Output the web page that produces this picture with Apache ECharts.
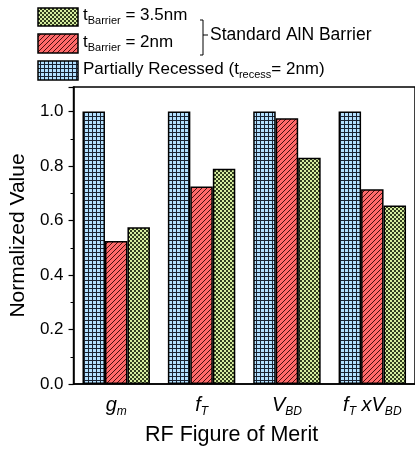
<!DOCTYPE html>
<html>
<head>
<meta charset="utf-8">
<script src="https://cdn.jsdelivr.net/npm/echarts@6/dist/echarts.min.js"></script>
<style>
  html, body { margin: 0; padding: 0; background: #fff; }
  #chart { width: 415px; height: 449px; }
</style>
</head>
<body>
<div id="chart"></div>
<script>
// categories and values
const categories = ['gm', 'fT', 'VBD', 'fTxVBD']
const categoryLabels = [
  '{i|g}{s|m}',
  '{i|f}{s|T}',
  '{i|V}{s|BD}',
  '{i|f}{s|T}{i| xV}{s|BD}',
]
const recessed = [1.0, 1.0, 1.0, 1.0]
const barrier2nm = [0.525, 0.725, 0.975, 0.715]
const barrier35nm = [0.575, 0.79, 0.83, 0.655]
const yTicks = ['0.0', '0.2', '0.4', '0.6', '0.8', '1.0']

const FONT = 'Liberation Sans, Arial, sans-serif'

// small pixel tiles used as fill patterns
function makeTile(size, painter) {
  const c = document.createElement('canvas')
  c.width = size
  c.height = size
  const ctx = c.getContext('2d')
  const img = ctx.createImageData(size, size)
  for (let y = 0; y < size; y++) {
    for (let x = 0; x < size; x++) {
      const col = painter(x, y)
      const k = (y * size + x) * 4
      img.data[k] = col[0]
      img.data[k + 1] = col[1]
      img.data[k + 2] = col[2]
      img.data[k + 3] = 255
    }
  }
  ctx.putImageData(img, 0, 0)
  return { image: c, repeat: 'repeat' }
}

const blueGrid = makeTile(4, (x, y) => (x === 0 || y === 0) ? [25, 35, 50] : [178, 224, 255])
const redHatch = makeTile(5, (x, y) => ((x + y) % 5 === 4) ? [70, 15, 15] : [255, 106, 106])
const greenCheck = makeTile(4, (x, y) => ((Math.floor(x / 2) + Math.floor(y / 2)) % 2 === 0) ? [50, 62, 30] : [214, 238, 160])

const chart = echarts.init(document.getElementById('chart'), null, { renderer: 'canvas' })

const barStyle = fill => ({
  color: fill,
  borderColor: '#000',
  borderWidth: 1.5,
})

const legendText = {
  fontFamily: FONT,
  fontSize: 17,
  fill: '#000',
  rich: {
    s: { fontFamily: FONT, fontSize: 11, padding: [11, 0, 0, 0] },
  },
}

chart.setOption({
  animation: false,
  backgroundColor: '#fff',
  grid: {
    left: 71,
    right: -1,
    top: 87,
    bottom: 65,
    show: true,
    borderColor: '#000',
    borderWidth: 1.5,
  },
  xAxis: {
    type: 'category',
    data: categories,
    axisLine: { lineStyle: { color: '#000', width: 1.5 } },
    axisTick: { alignWithLabel: true, length: 5, lineStyle: { color: '#000', width: 1.2 } },
    axisLabel: {
      interval: 0,
      margin: 8,
      formatter: (v, i) => categoryLabels[i],
      rich: {
        i: { fontFamily: FONT, fontStyle: 'italic', fontSize: 20, color: '#000' },
        s: { fontFamily: FONT, fontStyle: 'italic', fontSize: 12, color: '#000', padding: [14, 0, 0, 0] },
      },
    },
  },
  yAxis: {
    type: 'value',
    min: 0,
    max: 1.09,
    interval: 0.2,
    name: 'Normalized Value',
    nameLocation: 'middle',
    nameGap: 44,
    nameTextStyle: { fontFamily: FONT, fontSize: 21, color: '#000' },
    axisLine: { show: true, lineStyle: { color: '#000', width: 1.5 } },
    axisTick: { show: true, length: 5, lineStyle: { color: '#000', width: 1.2 } },
    minorTick: { show: true, splitNumber: 2, length: 3, lineStyle: { color: '#000', width: 1 } },
    splitLine: { show: false },
    axisLabel: {
      margin: 10,
      fontFamily: FONT,
      fontSize: 17,
      color: '#000',
      formatter: v => {
        const idx = Math.round(v / 0.2)
        return Math.abs(v - idx * 0.2) < 1e-6 ? yTicks[idx] : ''
      },
    },
  },
  series: [
    { type: 'bar', data: recessed, barGap: '0%', barCategoryGap: '21%', itemStyle: barStyle(blueGrid) },
    { type: 'bar', data: barrier2nm, barGap: '0%', barCategoryGap: '21%', itemStyle: barStyle(redHatch) },
    { type: 'bar', data: barrier35nm, barGap: '0%', barCategoryGap: '21%', itemStyle: barStyle(greenCheck) },
  ],
  graphic: [
    // legend swatches
    { type: 'rect', shape: { x: 38, y: 8, width: 40, height: 18 }, style: { fill: greenCheck, stroke: '#000', lineWidth: 1.5 } },
    { type: 'rect', shape: { x: 38, y: 34, width: 40, height: 19 }, style: { fill: redHatch, stroke: '#000', lineWidth: 1.5 } },
    { type: 'rect', shape: { x: 38, y: 61, width: 40, height: 19 }, style: { fill: blueGrid, stroke: '#000', lineWidth: 1.5 } },
    { type: 'text', left: 83, top: 7, style: Object.assign({ text: 't{s|Barrier} = 3.5nm' }, legendText) },
    { type: 'text', left: 83, top: 34, style: Object.assign({ text: 't{s|Barrier} = 2nm' }, legendText) },
    { type: 'text', left: 83, top: 61, style: Object.assign({ text: 'Partially Recessed (t{s|recess}= 2nm)' }, legendText) },
    // brace
    { type: 'polyline', shape: { points: [[200, 20], [203, 20], [203, 55], [200, 55]] }, style: { stroke: '#000', lineWidth: 1, fill: null } },
    { type: 'line', shape: { x1: 203, y1: 35, x2: 208, y2: 35 }, style: { stroke: '#000', lineWidth: 1 } },
    { type: 'text', left: 210, top: 26, style: { text: 'Standard AlN Barrier', fontFamily: FONT, fontSize: 17.5, fill: '#000' } },
    // x axis title
    { type: 'text', left: 145, top: 424, style: { text: 'RF Figure of Merit', fontFamily: FONT, fontSize: 21.5, fill: '#000' } },
  ],
})
</script>
</body>
</html>
